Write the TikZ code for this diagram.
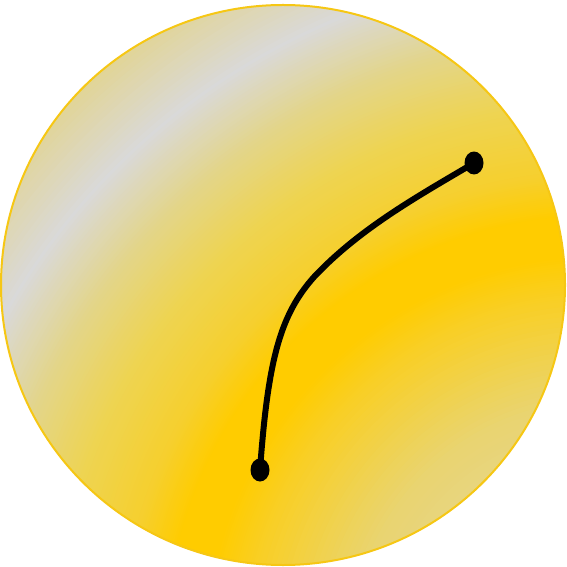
\documentclass[tikz,border=0pt]{standalone}
\usepackage{tikz}
\usetikzlibrary{shapes.geometric}

\definecolor{rimGold}{HTML}{F6C714}
\definecolor{edgeTop}{HTML}{E3D48A}
\definecolor{streak}{HTML}{D9D9D9}
\definecolor{paleGold}{HTML}{E3D58A}
\definecolor{warmGold}{HTML}{EED452}
\definecolor{nearGold}{HTML}{F6CF2D}
\definecolor{deepGold}{HTML}{FFCC00}
\definecolor{sideGold}{HTML}{F8CF28}
\definecolor{lowGold}{HTML}{E9D470}
\definecolor{edgeLow}{HTML}{E6D690}

\tikzset{
    endpoint/.style={ellipse, fill=black, inner sep=0pt, minimum width=0.38cm, minimum height=0.46cm},
    arc line/.style={line width=0.12cm, line cap=round}
}

\begin{document}
\begin{tikzpicture}[x=0.02cm, y=-0.02cm]
    \useasboundingbox (0,0) rectangle (566,567);

    % disc, shaded in rings round a point below right
    \begin{scope}
        \clip (283,285) ellipse [x radius=282, y radius=280];
        \foreach \ra/\rb/\ca/\cb in {780/685/edgeTop/streak, 685/616/streak/paleGold,
                616/548/paleGold/warmGold, 548/476/warmGold/nearGold, 476/435/nearGold/deepGold,
                435/395/deepGold/deepGold, 395/350/deepGold/sideGold, 350/250/sideGold/lowGold,
                250/150/lowGold/edgeLow} {
            \foreach \k in {0,...,19} {
                \pgfmathsetmacro\rr{\ra+(\rb-\ra)*\k/20}
                \pgfmathsetmacro\pp{100-5*\k}
                \fill[\ca!\pp!\cb] (600,650) circle [radius=\rr];
            }
        }
    \end{scope}
    \draw[rimGold, line width=0.04cm] (283,285) ellipse [x radius=282, y radius=280];

    \node[endpoint] (low) at (260,470) {};
    \node[endpoint] (high) at (474,163) {};

    \draw[arc line] (low.center) .. controls (268,360) and (280,315) .. (314,277)
        .. controls (360,228) and (420,195) .. (high.center);
\end{tikzpicture}
\end{document}
